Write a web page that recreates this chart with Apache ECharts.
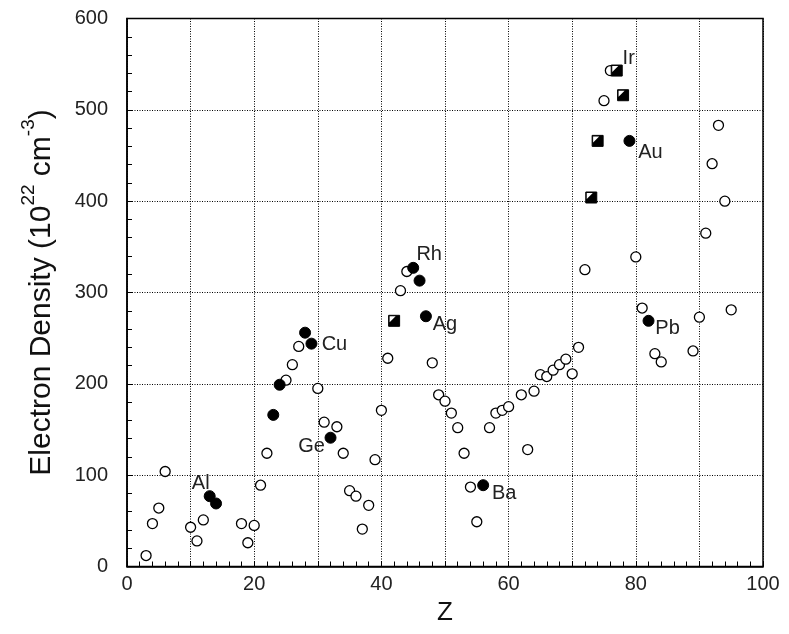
<!DOCTYPE html>
<html>
<head>
<meta charset="utf-8">
<script src="https://cdn.jsdelivr.net/npm/echarts@6/dist/echarts.min.js"></script>
<style>
html,body{margin:0;padding:0;background:#fff;}
#chart{width:789px;height:634px;}
</style>
</head>
<body>
<div id="chart"></div>
<script>
// Open circles: atomic number Z and electron density (10^22 cm^-3)
const openZ   = [3, 4, 5, 6, 10, 11, 12, 18, 19, 20, 21, 22, 25, 26, 27, 30, 31, 33, 34, 35, 36, 37, 38, 39, 40, 41, 43, 44, 48, 49, 50, 51, 52, 53, 54, 55, 57, 58, 59, 60, 62, 63, 64, 65, 66, 67, 68, 69, 70, 71, 72, 75, 76, 80, 81, 83, 84, 89, 90, 91, 92, 93, 94, 95];
const openVal = [12, 47, 64, 104, 43, 28, 51, 47, 26, 45, 89, 124, 204, 221, 241, 195, 158, 153, 124, 83, 77, 41, 67, 117, 171, 228, 302, 323, 223, 188, 181, 168, 152, 124, 87, 49, 152, 168, 171, 175, 188, 128, 192, 210, 208, 215, 221, 227, 211, 240, 325, 510, 543, 339, 283, 233, 224, 236, 273, 365, 441, 483, 400, 281];

// Filled circles
const filledZ     = [13, 14, 23, 24, 28, 29, 32, 45, 46, 47, 56, 79, 82];
const filledVal   = [77, 69, 166, 199, 256, 244, 141, 327, 313, 274, 89, 466, 269];
const filledLabel = ['Al', '', '', '', '', 'Cu', 'Ge', 'Rh', '', 'Ag', 'Ba', 'Au', 'Pb'];

// Half-filled squares
const squareZ     = [42, 73, 74, 77, 78];
const squareVal   = [269, 404, 466, 543, 516];
const squareLabel = ['', '', '', 'Ir', ''];

// Axis ticks
const xTicks = [0, 20, 40, 60, 80, 100];
const yTicks = [0, 100, 200, 300, 400, 500, 600];

const labelOffsets = {
  Al: [-9, -13], Cu: [23, 1], Ge: [-19, 9], Rh: [16, -13], Ag: [19, 8],
  Ba: [21, 8], Ir: [12, -12], Au: [21, 12], Pb: [19, 8]
};

const FONT = 'Liberation Sans, Arial, Helvetica, sans-serif';

function mk(zs, vs, labels) {
  return zs.map((z, i) => {
    const d = { value: [z, vs[i]] };
    const lab = labels ? labels[i] : '';
    if (lab) {
      d.label = { show: true, formatter: lab, offset: labelOffsets[lab] };
    }
    return d;
  });
}

const labelStyle = {
  show: false, position: 'inside', color: '#222', fontSize: 20, opacity: 1,
  fontFamily: FONT, align: 'center', verticalAlign: 'middle',
  textBorderWidth: 0, textBorderColor: 'transparent'
};

const chart = echarts.init(document.getElementById('chart'), null, { renderer: 'canvas' });
chart.setOption({
  animation: false,
  backgroundColor: '#fff',
  grid: { left: 127, right: 26, top: 18.5, bottom: 67.5, show: true, borderColor: '#000', borderWidth: 1.5, backgroundColor: 'transparent' },
  xAxis: {
    type: 'value', min: 0, max: 100, interval: 10,
    name: 'Z', nameLocation: 'middle', nameGap: 29,
    nameTextStyle: { fontSize: 26, color: '#111', fontFamily: FONT },
    axisLine: { show: true, onZero: false, lineStyle: { color: '#000', width: 1.5 } },
    axisTick: { show: true, inside: true, length: 5, lineStyle: { color: '#000', width: 1 } },
    minorTick: { show: true, splitNumber: 5, length: 5, lineStyle: { color: '#000', width: 1 } },
    splitLine: { show: true, lineStyle: { color: '#000', type: [1, 1.5], width: 1 } },
    axisLabel: {
      color: '#222', fontSize: 20, fontFamily: FONT, margin: 8,
      formatter: v => xTicks.indexOf(v) >= 0 ? String(v) : ''
    }
  },
  yAxis: {
    type: 'value', min: 0, max: 600, interval: 100,
    name: '{a|Electron Density (10}{s|22}{a| cm}{s|-3}{a|)}',
    nameLocation: 'middle', nameGap: 70, nameRotate: 90,
    nameTextStyle: {
      fontFamily: FONT, color: '#111',
      rich: {
        a: { fontSize: 30, fontFamily: FONT, color: '#111', lineHeight: 38, verticalAlign: 'bottom' },
        s: { fontSize: 19, fontFamily: FONT, color: '#111', lineHeight: 38, verticalAlign: 'top' }
      }
    },
    axisLine: { show: true, onZero: false, lineStyle: { color: '#000', width: 1.5 } },
    axisTick: { show: true, inside: true, length: 5, lineStyle: { color: '#000', width: 1 } },
    minorTick: { show: true, splitNumber: 5, length: 5, lineStyle: { color: '#000', width: 1 } },
    splitLine: { show: true, lineStyle: { color: '#000', type: [1, 1.5], width: 1 } },
    axisLabel: {
      color: '#222', fontSize: 20, fontFamily: FONT, margin: 19,
      formatter: v => yTicks.indexOf(v) >= 0 ? String(v) : ''
    }
  },
  series: [
    {
      type: 'scatter', name: 'open', data: mk(openZ, openVal, null),
      symbol: 'circle', symbolSize: 10,
      itemStyle: { color: '#fff', borderColor: '#000', borderWidth: 1.3, opacity: 1 },
      z: 3
    },
    {
      type: 'scatter', name: 'filled', data: mk(filledZ, filledVal, filledLabel),
      symbol: 'circle', symbolSize: 11,
      itemStyle: { color: '#000', borderColor: '#000', borderWidth: 1, opacity: 1 },
      label: labelStyle,
      z: 4
    },
    {
      type: 'scatter', name: 'square', data: mk(squareZ, squareVal, squareLabel),
      symbol: 'rect', symbolSize: 11,
      itemStyle: { color: '#000', borderColor: '#000', borderWidth: 1, opacity: 1 },
      label: labelStyle,
      z: 4
    },
    {
      type: 'scatter', name: 'squareTri', data: mk(squareZ, squareVal, null),
      symbol: 'path://M0,0 L10,0 L0,10 Z', symbolSize: 6, symbolOffset: [-1.5, -1.5],
      itemStyle: { color: '#fff', borderWidth: 0, opacity: 1 },
      silent: true,
      z: 5
    }
  ]
});
</script>
</body>
</html>
